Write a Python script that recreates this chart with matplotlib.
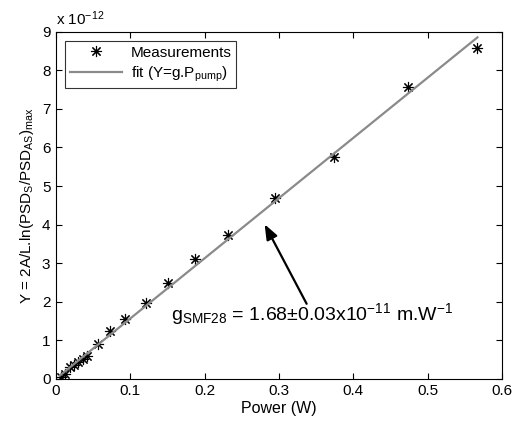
import numpy as np
import matplotlib
matplotlib.use('Agg')
import matplotlib.pyplot as plt

plt.rcParams['font.family'] = ['Liberation Sans', 'DejaVu Sans']
plt.rcParams['mathtext.fontset'] = 'custom'
plt.rcParams['mathtext.rm'] = 'Liberation Sans'
plt.rcParams['mathtext.it'] = 'Liberation Sans'

# measured points (power in W, Y in units of 1e-12)
power = [0.007, 0.012, 0.019, 0.024, 0.030, 0.036, 0.042, 0.057, 0.073,
         0.093, 0.121, 0.151, 0.187, 0.232, 0.295, 0.374, 0.474, 0.567]
y_meas = [0.04, 0.13, 0.30, 0.35, 0.42, 0.50, 0.58, 0.89, 1.25,
          1.55, 1.97, 2.48, 3.10, 3.73, 4.68, 5.75, 7.57, 8.58]

# linear fit through origin
fit_x = [0.005, 0.567]
fit_slope = 15.62
fit_y = [fit_slope * p for p in fit_x]

x_ticks = [0, 0.1, 0.2, 0.3, 0.4, 0.5, 0.6]
y_ticks = list(range(10))

fig = plt.figure(figsize=(5.18, 4.25), dpi=100)
ax = fig.add_axes([0.108, 0.109, 0.861, 0.816])

ax.plot(power, y_meas, linestyle='none', marker=(8, 2, 0), markersize=8,
        color='black', markeredgewidth=0.8, label='Measurements')
ax.plot(fit_x, fit_y, color='#8a8a8a', linewidth=1.6,
        label='fit (Y=g.P$_{\\mathregular{pump}}$)')

ax.set_xlim(0, 0.6)
ax.set_ylim(0, 9)
ax.set_xticks(x_ticks)
ax.set_xticklabels(['0', '0.1', '0.2', '0.3', '0.4', '0.5', '0.6'])
ax.set_yticks(y_ticks)
ax.tick_params(direction='in', top=True, right=True, length=4, labelsize=11, pad=4)
for s in ax.spines.values():
    s.set_linewidth(0.8)

ax.set_xlabel('Power (W)', fontsize=11.5, labelpad=2)
ax.set_ylabel('Y = 2A/L.ln(PSD$_{\\mathregular{S}}$/PSD$_{\\mathregular{AS}}$)$_{\\mathregular{max}}$',
              fontsize=11, labelpad=4)

ax.text(0.0, 1.012, 'x 10$^{\\mathregular{-12}}$', transform=ax.transAxes,
        fontsize=11, ha='left', va='bottom')

ax.annotate('', xy=(0.279, 4.07), xytext=(0.339, 1.88),
            arrowprops=dict(arrowstyle='-|>,head_length=0.9,head_width=0.35',
                            color='black', lw=1.6))
ax.text(0.155, 1.68,
        'g$_{\\mathregular{SMF28}}$ = 1.68\u00b10.03x10$^{\\mathregular{-11}}$ m.W$^{\\mathregular{-1}}$',
        fontsize=14, ha='left', va='center')

leg = ax.legend(loc='upper left', fontsize=11, frameon=True, fancybox=False,
                edgecolor='black', borderaxespad=0.6, handlelength=3.4,
                borderpad=0.3, labelspacing=0.3, handletextpad=0.6)
leg.get_frame().set_linewidth(0.8)

fig.savefig('out.png', dpi=100)
